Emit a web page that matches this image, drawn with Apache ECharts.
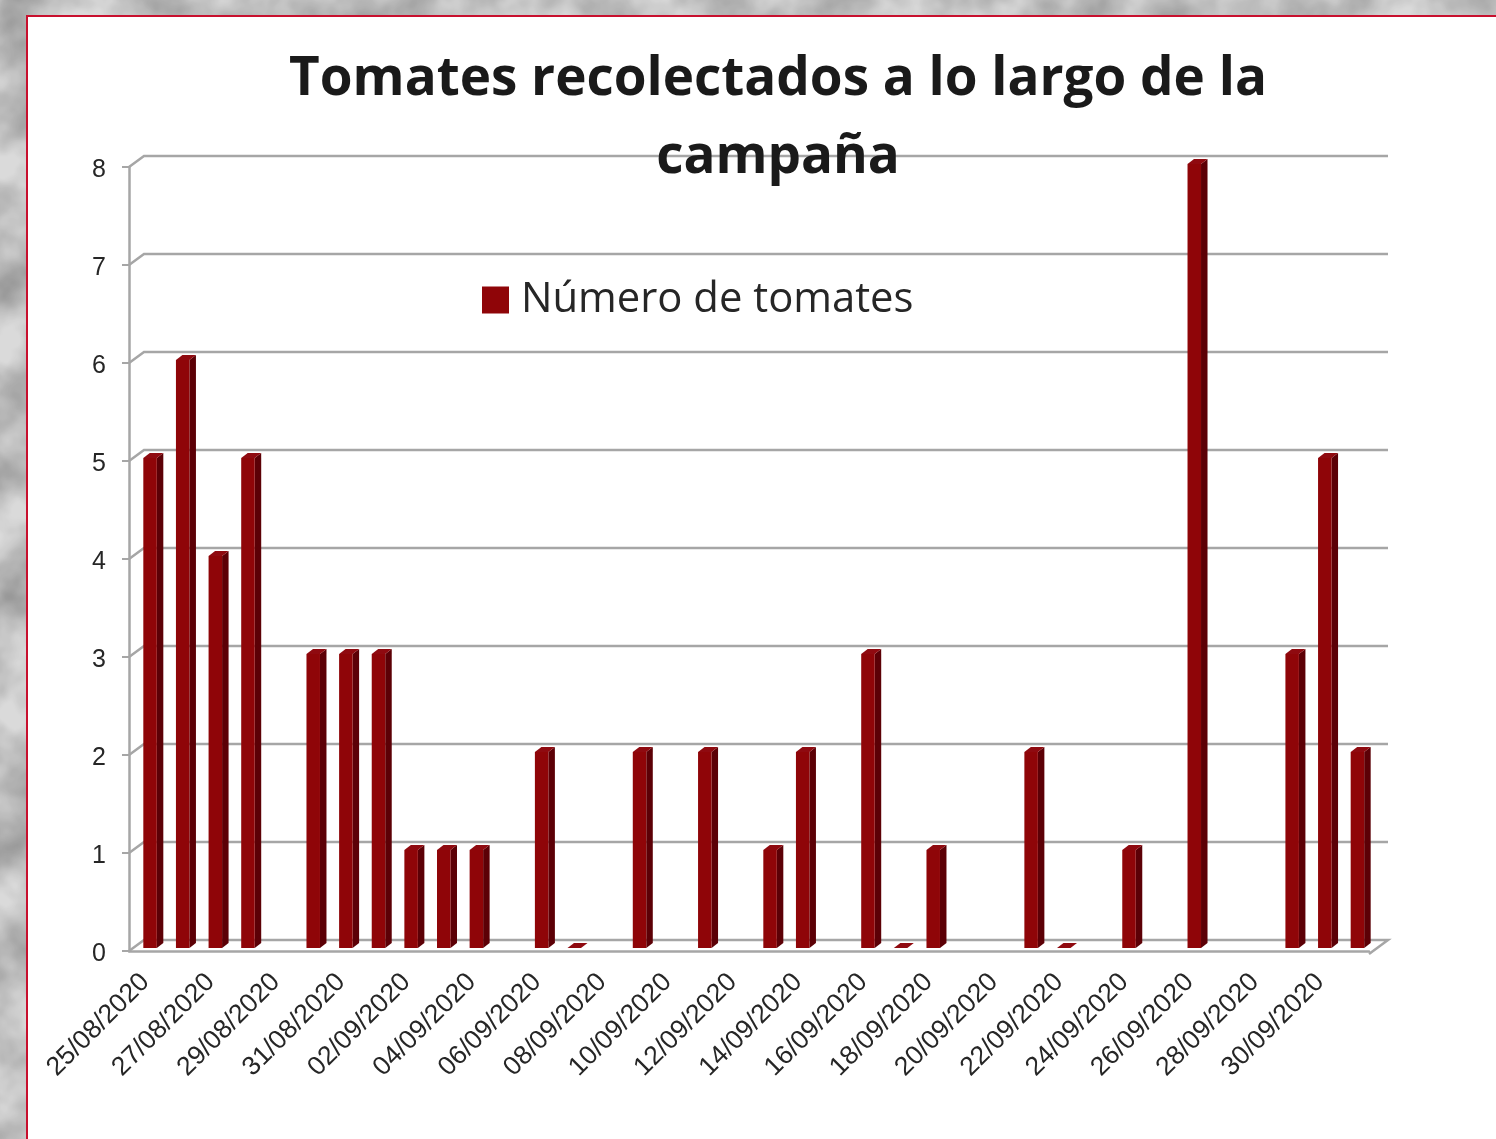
<!DOCTYPE html>
<html>
<head>
<meta charset="utf-8">
<title>Tomates recolectados</title>
<script src="https://cdn.jsdelivr.net/npm/echarts@6/dist/echarts.min.js"></script>
<style>
html,body{margin:0;padding:0;width:1496px;height:1139px;overflow:hidden;background:#b9b9b9}
#texture{position:absolute;left:0;top:0}
#panel{position:absolute;left:26px;top:15px;width:1480px;height:1134px;background:#fff;border:2px solid #c8102e;box-sizing:border-box}
#chart{position:absolute;left:0;top:0;width:1496px;height:1139px}
</style>
</head>
<body>
<svg id="texture" width="1496" height="1139">
    <filter id="marble" color-interpolation-filters="sRGB"><feTurbulence type="fractalNoise" baseFrequency="0.016" numOctaves="4" seed="11"/>
        <feColorMatrix values="0 0 0 0 0  0 0 0 0 0  0 0 0 0 0  0.9 0 0 0 -0.25"/>
        <feGaussianBlur stdDeviation="1.5"/></filter>
    <rect width="1496" height="1139" fill="#dadada"/>
    <rect width="1496" height="1139" filter="url(#marble)" opacity="0.6"/>
</svg>
<div id="panel"></div>
<div id="chart"></div>
<script>
var titleText = 'Tomates recolectados a lo largo de la\ncampaña';
var seriesName = 'Número de tomates';
var categories = ['25/08/2020','26/08/2020','27/08/2020','28/08/2020','29/08/2020','30/08/2020','31/08/2020',
    '01/09/2020','02/09/2020','03/09/2020','04/09/2020','05/09/2020','06/09/2020','07/09/2020','08/09/2020',
    '09/09/2020','10/09/2020','11/09/2020','12/09/2020','13/09/2020','14/09/2020','15/09/2020','16/09/2020',
    '17/09/2020','18/09/2020','19/09/2020','20/09/2020','21/09/2020','22/09/2020','23/09/2020','24/09/2020',
    '25/09/2020','26/09/2020','27/09/2020','28/09/2020','29/09/2020','30/09/2020','01/10/2020'];
// null = no hay dato, 0 = solo se ve la tapa
var tomatoes = [5,6,4,5,null,3,3,3,1,1,1,null,2,0,null,2,null,2,null,1,2,null,3,0,1,null,null,2,0,null,1,null,8,null,null,3,5,2];
var yTicks = [0,1,2,3,4,5,6,7,8];

var depthX = 15, depthY = 11;   // fondo del grafico "3D"

var chart = echarts.init(document.getElementById('chart'));

function renderWall(params, api){
    var p = api.coord([0, api.value(0)]);
    var x0 = params.coordSys.x, x1 = x0 + params.coordSys.width;
    var y = p[1], points = [[x0, y], [x0 + depthX, y - depthY], [x1 + depthX + 4, y - depthY]];
    if (api.value(0) === 0) points.push([x1, y + 3]);
    return {
        type: 'polyline',
        shape: {points: points},
        style: {fill: 'none', stroke: '#a6a6a6', lineWidth: 2.5}
    };
}

function renderBar(params, api){
    var base = api.coord([api.value(0), 0]);
    var top = api.coord([api.value(0), api.value(1)]);
    var w = 13.5, sx = 6.5, sy = 5;
    var x = base[0] - 2, y0 = base[1] - 3, y1 = top[1] - 3;
    return {
        type: 'group',
        children: [
            {type: 'polygon', shape: {points: [[x + w, y1], [x + w + sx, y1 - sy], [x + w + sx, y0 - sy], [x + w, y0]]},
                style: {fill: '#5c0006'}},
            {type: 'polygon', shape: {points: [[x, y1], [x + sx, y1 - sy], [x + w + sx, y1 - sy], [x + w, y1]]},
                style: {fill: '#8f0a10'}},
            {type: 'rect', shape: {x: x, y: y1, width: w, height: y0 - y1},
                style: {fill: '#8f0508'}}
        ]
    };
}

var barData = [];
for (var i = 0; i < tomatoes.length; i++) {
    if (tomatoes[i] !== null) barData.push([i, tomatoes[i]]);
}

var option = {
    animation: false,
    backgroundColor: 'transparent',
    textStyle: {fontFamily: 'Liberation Sans'},
    title: {
        text: titleText,
        left: 773,
        top: 36,
        textAlign: 'center',
        textStyle: {fontFamily: 'Open Sans', fontSize: 53, fontWeight: 'bold', color: '#1a1a1a', lineHeight: 78}
    },
    legend: {
        left: 477,
        top: 274,
        itemWidth: 27,
        itemHeight: 27,
        itemGap: 0,
        icon: 'rect',
        data: [{name: seriesName, itemStyle: {color: '#8f0508'}}],
        textStyle: {fontFamily: 'Open Sans', fontSize: 41.8, color: '#262626', padding: [0, 0, 0, 7]}
    },
    grid: {left: 129, right: 127, top: 167, bottom: 188},
    xAxis: {
        type: 'category',
        data: categories,
        axisLine: {lineStyle: {color: '#a6a6a6', width: 2.5}},
        axisTick: {interval: 1, length: 7, lineStyle: {color: '#a6a6a6', width: 2}},
        axisLabel: {interval: 1, rotate: 45, fontSize: 26.5, color: '#262626', margin: 27, fontFamily: 'Liberation Sans'}
    },
    yAxis: {
        type: 'value',
        min: 0,
        max: 8,
        interval: 1,
        axisLine: {show: true, lineStyle: {color: '#a6a6a6', width: 2.5}},
        axisTick: {show: true, length: 7, lineStyle: {color: '#a6a6a6', width: 2}},
        axisLabel: {
            margin: 23,
            formatter: '{n|{value}}',
            rich: {n: {fontSize: 25, color: '#262626', padding: [6, 0, 0, 0], fontFamily: 'Liberation Sans'}}
        },
        splitLine: {show: false}
    },
    series: [
        {
            type: 'custom',
            name: 'paredes',
            silent: true,
            z: 1,
            clip: false,
            renderItem: renderWall,
            encode: {y: 0},
            data: yTicks
        },
        {
            type: 'custom',
            name: seriesName,
            z: 3,
            clip: false,
            itemStyle: {color: '#8f0508'},
            renderItem: renderBar,
            encode: {x: 0, y: 1},
            data: barData
        }
    ]
};
chart.setOption(option);
</script>
</body>
</html>
